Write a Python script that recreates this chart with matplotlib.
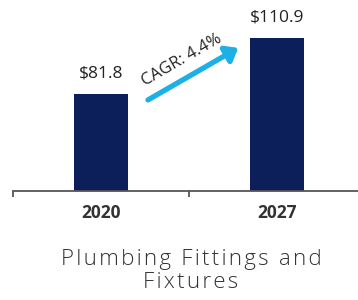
import matplotlib
matplotlib.use("Agg")
import matplotlib.pyplot as plt

# data
years = ["2020", "2027"]
values = [81.8, 110.9]
value_labels = ["$81.8", "$110.9"]
cagr_text = "CAGR: 4.4%"
title = "Plumbing Fittings and\nFixtures"

navy = "#0c1f5b"
arrow_blue = "#1cb0e6"
text_col = "#333333"

fig = plt.figure(figsize=(3.58, 3.0), dpi=100)
ax = fig.add_axes([13 / 358, 109 / 300, 352 / 358, 181 / 300])

x = range(len(years))
ax.bar(x, values, width=0.31, color=navy)
ax.set_xlim(-0.5, 1.5)
ax.set_ylim(31.4, 125.4)

for xi, v, lab in zip(x, values, value_labels):
    ax.text(xi, v + 6.5, lab, ha="center", va="bottom", fontsize=12.5,
            family="Open Sans", color="#222222")

# CAGR arrow
ax.annotate("", xy=(0.78, 105.7), xytext=(0.267, 78.7),
            arrowprops=dict(arrowstyle="-|>,head_length=0.7,head_width=0.55",
                            color=arrow_blue, lw=3.8, shrinkA=0, shrinkB=0))
ax.text(0.46, 99.4, cagr_text, rotation=30, ha="center", va="center",
        fontsize=12, family="Open Sans", color="#222222",
        rotation_mode="anchor")

for s in ["top", "right", "left"]:
    ax.spines[s].set_visible(False)
ax.spines["bottom"].set_color("#555555")
ax.spines["bottom"].set_linewidth(1.3)
ax.set_yticks([])
ax.set_xticks([-0.5, 0.5, 1.5])
ax.set_xticklabels([])
ax.tick_params(axis="x", length=4, width=1.3, color="#555555", direction="out")
for xi, yr in zip(x, years):
    ax.text(xi, -0.12, yr, transform=ax.get_xaxis_transform(), ha="center",
            va="center", fontsize=12.5, fontweight="bold", family="Open Sans",
            color=text_col)

# letter-spaced title
spaced = "\n".join("\u200a".join(line) for line in title.split("\n"))
fig.text(191 / 358, 1 - 271 / 300, spaced, ha="center", va="center",
         fontsize=16, family=["Open Sans", "DejaVu Sans"], fontweight="light",
         color=text_col, linespacing=1.15)

fig.savefig("out.png", dpi=100)
